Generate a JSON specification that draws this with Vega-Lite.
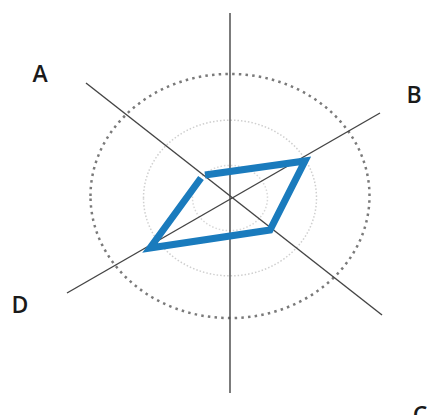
{
  "$schema": "https://vega.github.io/schema/vega-lite/v6.json",
  "autosize": {"type": "fit", "contains": "padding"},
  "width": 430,
  "height": 415,
  "padding": 0,
  "background": "white",
  "config": {"view": {"stroke": null}},
  "datasets": {
    "axes": [
      {"axis": "vertical", "x": 0, "y": 185, "x2": 0, "y2": -195},
      {"axis": "A-C", "x": -144, "y": 115, "x2": 152, "y2": -117},
      {"axis": "D-B", "x": -163, "y": -95, "x2": 150, "y2": 85}
    ],
    "rings": [
      {"ring": "outer", "x": 0, "y": 2},
      {"ring": "middle", "x": 0, "y": 0},
      {"ring": "inner", "x": 0, "y": 0}
    ],
    "shape": [
      {"i": 0, "x": -25, "y": 23},
      {"i": 1, "x": 75, "y": 37},
      {"i": 2, "x": 40, "y": -32},
      {"i": 3, "x": -80, "y": -50},
      {"i": 4, "x": -29, "y": 20}
    ],
    "labels": [
      {"label": "A", "x": -190, "y": 116},
      {"label": "B", "x": 184, "y": 95},
      {"label": "C", "x": 190, "y": -225},
      {"label": "D", "x": -210, "y": -115}
    ]
  },
  "layer": [
    {
      "data": {"name": "rings"},
      "transform": [{"filter": "datum.ring === 'inner'"}],
      "mark": {"type": "point", "shape": "M-1,0A1,0.87,0,1,1,1,0A1,0.87,0,1,1,-1,0Z", "size": 5625, "filled": false, "stroke": "#d8d8d8", "strokeWidth": 1.5, "strokeDash": [1.5, 2], "opacity": 1},
      "encoding": {
        "x": {"field": "x", "type": "quantitative", "scale": {"domain": [-230, 200], "nice": false, "zero": false}, "axis": null},
        "y": {"field": "y", "type": "quantitative", "scale": {"domain": [-217, 198], "nice": false, "zero": false}, "axis": null}
      }
    },
    {
      "data": {"name": "rings"},
      "transform": [{"filter": "datum.ring === 'middle'"}],
      "mark": {"type": "point", "shape": "M-1,0A1,0.9,0,1,1,1,0A1,0.9,0,1,1,-1,0Z", "size": 29929, "filled": false, "stroke": "#cfcfcf", "strokeWidth": 1.5, "strokeDash": [1.5, 2], "opacity": 1},
      "encoding": {
        "x": {"field": "x", "type": "quantitative"},
        "y": {"field": "y", "type": "quantitative"}
      }
    },
    {
      "data": {"name": "rings"},
      "transform": [{"filter": "datum.ring === 'outer'"}],
      "mark": {"type": "point", "shape": "M-1,0A1,0.875,0,1,1,1,0A1,0.875,0,1,1,-1,0Z", "size": 77841, "filled": false, "stroke": "#7a7a7a", "strokeWidth": 2.5, "strokeDash": [2.5, 4.2], "opacity": 1},
      "encoding": {
        "x": {"field": "x", "type": "quantitative"},
        "y": {"field": "y", "type": "quantitative"}
      }
    },
    {
      "data": {"name": "axes"},
      "mark": {"type": "rule", "color": "#444444", "strokeWidth": 1.4},
      "encoding": {
        "x": {"field": "x", "type": "quantitative"},
        "y": {"field": "y", "type": "quantitative"},
        "x2": {"field": "x2"},
        "y2": {"field": "y2"}
      }
    },
    {
      "data": {"name": "shape"},
      "mark": {"type": "line", "color": "#1a7bbd", "strokeWidth": 7, "strokeCap": "butt", "strokeJoin": "miter"},
      "encoding": {
        "x": {"field": "x", "type": "quantitative"},
        "y": {"field": "y", "type": "quantitative"},
        "order": {"field": "i", "type": "quantitative"}
      }
    },
    {
      "data": {"name": "labels"},
      "mark": {"type": "text", "font": "Open Sans", "fontSize": 23, "fontWeight": 600, "color": "#1a1a1a", "align": "center", "baseline": "alphabetic", "clip": true},
      "encoding": {
        "x": {"field": "x", "type": "quantitative"},
        "y": {"field": "y", "type": "quantitative"},
        "text": {"field": "label"}
      }
    }
  ]
}
